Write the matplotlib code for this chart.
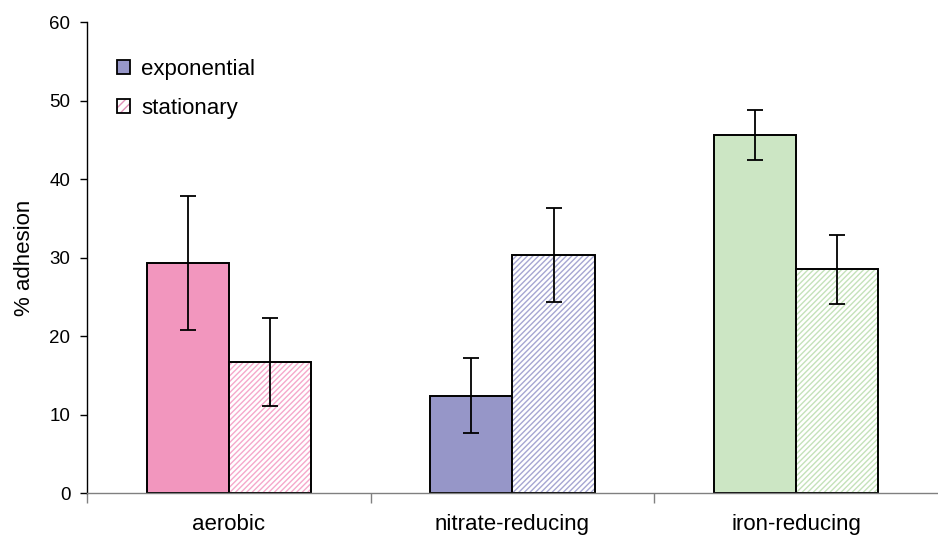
import numpy as np
import matplotlib.pyplot as plt
from matplotlib.patches import Patch
from matplotlib.legend_handler import HandlerTuple

plt.rcParams['font.family'] = ['Liberation Sans', 'DejaVu Sans']
plt.rcParams['hatch.linewidth'] = 1.0

# values
conditions = ['aerobic', 'nitrate-reducing', 'iron-reducing']
exponential = [29.3, 12.4, 45.6]
exponential_err = [8.5, 4.8, 3.2]
stationary = [16.7, 30.3, 28.5]
stationary_err = [5.6, 6.0, 4.4]
colors = ['#F296BE', '#9696C8', '#CCE6C4']
hatch_colors = ['#F5A8CB', '#A6A6D2', '#C4E2BA']

fig = plt.figure(figsize=(9.38, 5.41), dpi=100)
ax = fig.add_axes([0.0928, 0.0887, 0.907, 0.8706])

x = np.arange(len(conditions))
w = 0.29

# exponential phase: solid bars
ax.bar(x - w / 2, exponential, w, color=colors, edgecolor='black', linewidth=1.4, zorder=2)
ax.errorbar(x - w / 2, exponential, yerr=exponential_err, fmt='none', ecolor='black',
            elinewidth=1.3, capsize=5.8, capthick=1.3, zorder=3)

# stationary phase: hatched bars (hatch coloured, outline black)
ax.bar(x + w / 2, stationary, w, color='white', edgecolor=hatch_colors, hatch='//////',
       linewidth=0, zorder=2)
ax.bar(x + w / 2, stationary, w, fill=False, edgecolor='black', linewidth=1.4, zorder=2)
ax.errorbar(x + w / 2, stationary, yerr=stationary_err, fmt='none', ecolor='black',
            elinewidth=1.3, capsize=5.8, capthick=1.3, zorder=3)

ax.set_xlim(-0.5, 2.5)
ax.set_ylim(0, 60)
ax.set_yticks(range(0, 61, 10))
ax.tick_params(axis='y', direction='out', length=5, width=1, labelsize=13.5, pad=7)

ax.set_xticks(x)
ax.set_xticklabels(conditions, fontsize=16)
ax.tick_params(axis='x', which='major', length=0, pad=15)
ax.set_xticks([-0.5, 0.5, 1.5], minor=True)
ax.tick_params(axis='x', which='minor', direction='out', length=7, width=1, color='#808080')

ax.set_ylabel('% adhesion', fontsize=16, labelpad=10)

for side in ['top', 'right']:
    ax.spines[side].set_visible(False)
ax.spines['left'].set_linewidth(1)
ax.spines['bottom'].set_color('#808080')
ax.spines['bottom'].set_linewidth(1)

exp_handle = Patch(facecolor='#9696C8', edgecolor='black', linewidth=1.3)
stat_hatch = Patch(facecolor='white', edgecolor='#E090B8', hatch='////', linewidth=0)
stat_edge = Patch(fill=False, edgecolor='black', linewidth=1.3)
ax.legend([exp_handle, (stat_hatch, stat_edge)], ['exponential', 'stationary'],
          handler_map={tuple: HandlerTuple(ndivide=1, pad=0)},
          loc='upper left', bbox_to_anchor=(0.035, 0.922), frameon=False,
          borderaxespad=0, borderpad=0, fontsize=16, handlelength=0.6,
          handleheight=0.6, handletextpad=0.5, labelspacing=0.8)

fig.savefig('out.png', dpi=100)
